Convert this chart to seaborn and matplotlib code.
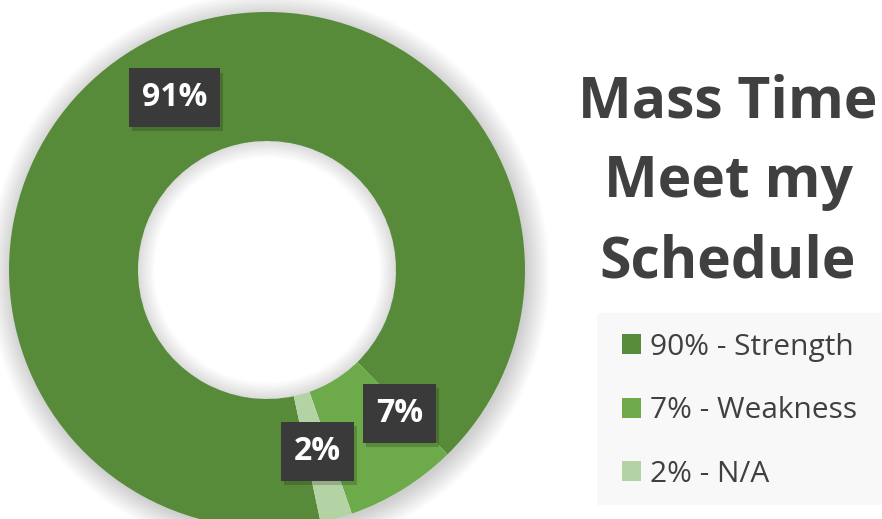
import numpy as np
import matplotlib
matplotlib.use("Agg")
import matplotlib.pyplot as plt
import matplotlib.patheffects as pe
from matplotlib.patches import Wedge
import seaborn as sns

# Дані діаграми
categories = ["Strength", "Weakness", "N/A"]
values = [91, 7, 2]
slice_labels = ["91%", "7%", "2%"]
legend_labels = ["90% - Strength", "7% - Weakness", "2% - N/A"]
colors = ["#578B3A", "#6DAA49", "#B4D3A5"]
title_text = "Mass Time\nMeet my\nSchedule"

sns.set_theme(style="white")
plt.rcParams["font.family"] = ["Open Sans", "DejaVu Sans"]

W, H = 882, 519
fig = plt.figure(figsize=(W / 100, H / 100), dpi=100)
ax = fig.add_axes([0, 0, 1, 1])

cx, cy = 267, H - 270
r_out, r_in = 258, 129
start = 90 - 168  # Excel "angle of first slice" ~168 deg

# м'яка тінь навколо кільця (тільки зовні)
for i in range(16):
    ax.add_patch(Wedge((cx + 2, cy - 3), r_out + i * 1.5, 0, 360, width=6 + i * 1.5,
                       color="black", alpha=0.011, lw=0, zorder=1))

wedges, _ = ax.pie(values, colors=colors, startangle=start, counterclock=False,
                   center=(cx, cy), radius=r_out, frame=True,
                   wedgeprops=dict(width=r_out - r_in, linewidth=0))
for w in wedges:
    w.set_zorder(2)
ax.set_xlim(0, W)
ax.set_ylim(0, H)
ax.set_axis_off()

# тінь всередині отвору
for i in range(12):
    ax.add_patch(Wedge((cx, cy), r_in, 0, 360, width=1 + i * 1.4, color="black",
                       alpha=0.01, lw=0, zorder=3))

# підписи частин (7% зсунуто, як в Excel)
ang_nudge = [0, 11, 0]
rad_nudge = [2, 2, -5]
for w, lab, da, dr in zip(wedges, slice_labels, ang_nudge, rad_nudge):
    mid = np.deg2rad((w.theta1 + w.theta2) / 2 + da)
    rr = (r_out + r_in) / 2 + dr
    t = ax.text(cx + rr * np.cos(mid), cy + rr * np.sin(mid), lab, ha="center", va="center",
                color="white", fontsize=23, fontweight="bold", zorder=6,
                bbox=dict(boxstyle="square,pad=0.4", fc="#3A3A3A", ec="none"))
    t.get_bbox_patch().set_path_effects([pe.withSimplePatchShadow(offset=(2, -3), alpha=0.2),
                                         pe.Normal()])

# заголовок
fig.text(728 / W, 1 - 182 / H, title_text, ha="center", va="center", fontsize=41,
         fontweight="bold", color="#404040", linespacing=1.5)

# легенда
ax.add_patch(plt.Rectangle((597, H - 505), 290, 192, fc="#F8F8F8", ec="none", zorder=1))
leg = ax.legend(wedges, legend_labels, loc="upper left", bbox_to_anchor=(598 / W, 1 - 309 / H),
                bbox_transform=fig.transFigure, frameon=False, fontsize=21.5,
                handlelength=0.65, handleheight=0.65, handletextpad=0.3,
                labelspacing=1.15, borderpad=0.3)
for txt in leg.get_texts():
    txt.set_color("#404040")

fig.savefig("out.png", dpi=100)
